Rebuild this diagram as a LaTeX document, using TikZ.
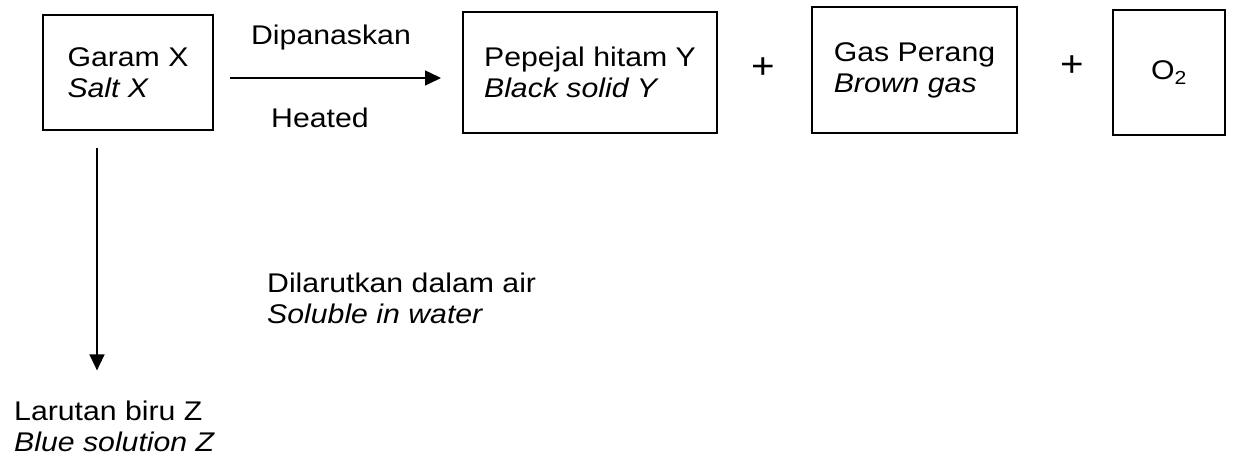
\documentclass[tikz,border=0pt]{standalone}
\usepackage{fontspec}
\setmainfont{Liberation Sans}[FakeStretch=1.12]
\usetikzlibrary{
    positioning,
    arrows.meta,
    calc
}

\begin{document}
\begin{tikzpicture}[
    x=1pt, y=-1pt,
    font=\fontsize{27}{31}\selectfont,
    box/.style={
        rectangle, draw=black, line width=2pt,
        align=left, inner sep=0pt
    },
    lbl/.style={
        rectangle, draw=none, fill=none, align=left, inner sep=0pt
    },
    plus/.style={
        rectangle, draw=none, inner sep=0pt, font=\fontsize{36}{40}\selectfont
    },
    arr/.style={-{Triangle[length=16pt,width=15pt]}, line width=1.5pt}
]
\useasboundingbox (0,0) rectangle (1251,465);

% Salt and products
\node[box, minimum width=170pt, minimum height=115pt] (salt) at (128,72.5)
    {Garam X\\ \textit{Salt X}};
\node[box, minimum width=254pt, minimum height=121pt] (solid) at (590,72.5)
    {Pepejal hitam Y\\ \textit{Black solid Y}};
\node[plus] (plus1) at (763,68) {+};
\node[box, minimum width=205pt, minimum height=126pt] (gas) at (914.5,70)
    {Gas Perang\\ \textit{Brown gas}};
\node[plus] (plus2) at (1072,66) {+};
\node[box, minimum width=112pt, minimum height=125pt, align=center] (oxy) at (1169,72.5)
    {O\textsubscript{2}};

% Heating labels
\node[lbl, anchor=base] (heat_bm) at (331,45) {Dipanaskan};
\node[lbl, anchor=base] (heat_en) at (320,128) {Heated};

% Dissolving labels
\node[lbl, anchor=west] (diss) at (267,298)
    {Dilarutkan dalam air\\ \textit{Soluble in water}};
\node[lbl, anchor=west] (sol) at (14,426)
    {Larutan biru Z\\ \textit{Blue solution Z}};

% Arrows
\draw[arr] ([xshift=16pt,yshift=-5.5pt]salt.east) -- ([xshift=-21pt,yshift=-5.5pt]solid.west);
\draw[arr] ([xshift=-31pt,yshift=-17pt]salt.south) coordinate (dtop)
    -- ($(dtop |- sol.north)+(0,-30)$);

\end{tikzpicture}
\end{document}
